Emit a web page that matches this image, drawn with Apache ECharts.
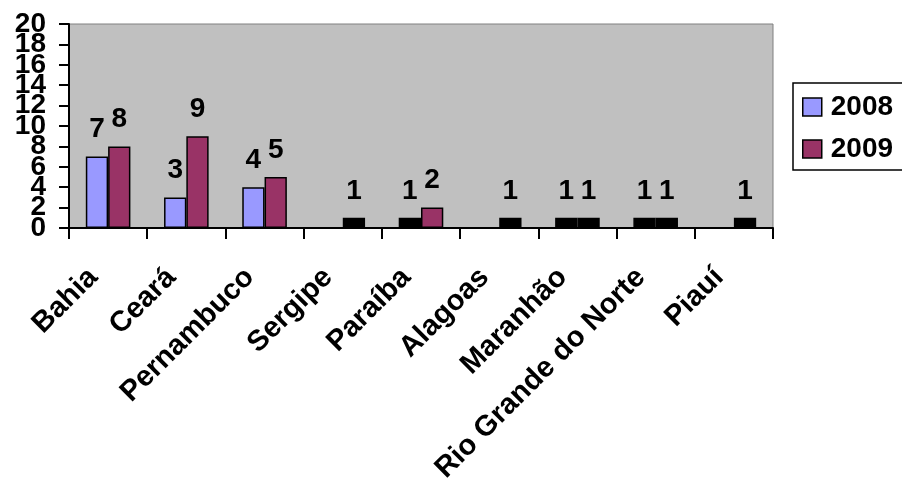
<!DOCTYPE html>
<html>
<head>
<meta charset="utf-8">
<script src="https://cdn.jsdelivr.net/npm/echarts@6/dist/echarts.min.js"></script>
<style>
  html, body { margin: 0; padding: 0; background: #ffffff; }
  #chart { width: 902px; height: 484px; }
</style>
</head>
<body>
<div id="chart"></div>
<script>
const categories = ['Bahia', 'Ceará', 'Pernambuco', 'Sergipe', 'Paraíba', 'Alagoas', 'Maranhão', 'Rio Grande do Norte', 'Piauí'];
const values2008 = [7, 3, 4, null, 1, null, 1, 1, null];
const values2009 = [8, 9, 5, 1, 2, 1, 1, 1, 1];
const yTicks = { min: 0, max: 20, interval: 2 };

const FONT = '"Liberation Sans", Arial, sans-serif';
const color2008 = '#9999ff';
const color2009 = '#993366';

function barColor(base) {
  return function (p) { return p.value === 1 ? '#000000' : base; };
}

function makeSeries(name, data, base) {
  return {
    name: name,
    type: 'bar',
    yAxisIndex: 0,
    data: data,
    barGap: '0%',
    barCategoryGap: '43%',
    itemStyle: { color: barColor(base), borderColor: '#000000', borderWidth: 1.5 },
    label: {
      show: true,
      position: 'top',
      distance: 13,
      color: '#000000',
      fontFamily: FONT,
      fontWeight: 'bold',
      fontSize: 28
    }
  };
}

// Two label layers on the same scale so that every tick label is drawn
// (the labels are bigger than the tick spacing, as in the reference).
function yAxisLayer(showAxis, keep) {
  return {
    type: 'value',
    position: 'left',
    min: yTicks.min, max: yTicks.max, interval: yTicks.interval,
    axisLine: { show: showAxis, lineStyle: { color: '#000000', width: 2 } },
    axisTick: { show: showAxis, length: 10, lineStyle: { color: '#000000', width: 2 } },
    axisLabel: {
      margin: 23,
      showMinLabel: true,
      showMaxLabel: true,
      hideOverlap: false,
      color: '#000000',
      fontFamily: FONT,
      fontWeight: 'bold',
      fontSize: 28,
      formatter: function (v) { return keep(v) ? String(v) : ''; }
    },
    splitLine: { show: false }
  };
}

const chart = echarts.init(document.getElementById('chart'), null, { renderer: 'canvas' });
chart.setOption({
  backgroundColor: '#ffffff',
  animation: false,
  textStyle: { fontFamily: FONT },
  grid: {
    left: 69, right: 129, top: 24, bottom: 256,
    outerBoundsMode: 'none',
    containLabel: false,
    show: true, backgroundColor: '#c0c0c0', borderColor: '#808080', borderWidth: 1
  },
  legend: {
    orient: 'vertical',
    left: 793, top: 83,
    padding: [10, 30, 7, 9],
    itemGap: 14,
    itemWidth: 19, itemHeight: 18,
    icon: 'rect',
    backgroundColor: '#ffffff',
    borderColor: '#000000', borderWidth: 1.5,
    textStyle: { color: '#000000', fontFamily: FONT, fontWeight: 'bold', fontSize: 28, padding: [0, 0, 0, 4] },
    data: [
      { name: '2008', itemStyle: { color: color2008, borderColor: '#000', borderWidth: 1.5 } },
      { name: '2009', itemStyle: { color: color2009, borderColor: '#000', borderWidth: 1.5 } }
    ]
  },
  xAxis: {
    type: 'category',
    data: categories,
    axisLine: { lineStyle: { color: '#000000', width: 2 } },
    axisTick: { show: true, length: 11, lineStyle: { color: '#000000', width: 2 } },
    axisLabel: {
      interval: 0,
      rotate: 45,
      margin: 30,
      padding: [0, 21, 0, 0],
      hideOverlap: false,
      color: '#000000',
      fontFamily: FONT,
      fontWeight: 'bold',
      fontSize: 29
    },
    splitLine: { show: false }
  },
  yAxis: [
    yAxisLayer(true, function (v) { return v % 4 === 0; }),
    yAxisLayer(false, function (v) { return v % 4 === 2; })
  ],
  series: [
    makeSeries('2008', values2008, color2008),
    makeSeries('2009', values2009, color2009)
  ]
});
</script>
</body>
</html>
